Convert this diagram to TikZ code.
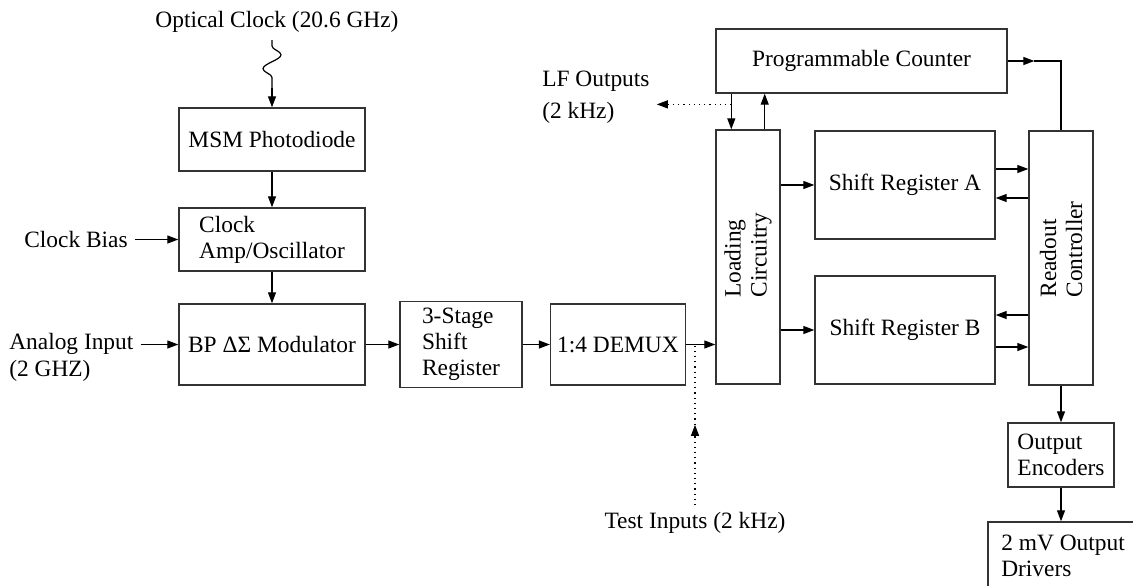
\documentclass[tikz,border=0pt]{standalone}
\usepackage{fontspec}
\setmainfont{Liberation Serif}
\usetikzlibrary{arrows.meta,calc,decorations.pathmorphing}

\tikzset{
	blk/.style={draw=black!80, line width=0.7pt, align=left},
	lbl/.style={align=left},
	vlbl/.style={rotate=90, anchor=west, align=left, inner sep=0pt},
	arr/.style={-{Stealth[length=5.5pt,width=4pt,inset=0pt]}},
}

\begin{document}
\begin{tikzpicture}[x=0.5pt, y=-0.5pt, line width=0.6pt, font=\fontsize{11.7}{13}\selectfont]
	\useasboundingbox (0,0) rectangle (1133,585);
	
	% clock chain and modulator
	\node[lbl] (optclk) at (277,22) {Optical Clock (20.6 GHz)};
	\node[blk, minimum width=93pt, minimum height=31.5pt] (msm) at (272,139.5) {MSM Photodiode};
	\node[blk, minimum width=93pt, minimum height=31.5pt] (amp) at (272,239.5) {Clock\\Amp/Oscillator};
	\node[blk, minimum width=93pt, minimum height=40.5pt] (bp) at (272,344.5) {BP ΔΣ Modulator};
	\node[lbl] (cbias) at (76,239.5) {Clock Bias};
	\node[lbl, anchor=west] (ain) at (2,357) {Analog Input\\[0.5pt](2 GHZ)};
	
	\node[blk, minimum width=61pt, minimum height=40.5pt] (sr3) at (461,344.5) {3-Stage\\Shift\\Register};
	\node[blk, minimum width=64pt, minimum height=40.5pt] (demux) at (618,344.5) {1:4 DEMUX};
	\node[lbl] (tin) at (695,523) {Test Inputs (2 kHz)};
	
	% register bank
	\node[blk, minimum width=145.5pt, minimum height=32pt] (counter) at (861.5,61) {Programmable Counter};
	\node[lbl, anchor=west] (lfo) at (535,97) {LF Outputs\\[3pt](2 kHz)};
	\node[blk, minimum width=32pt, minimum height=127pt] (load) at (748,257) {};
	\node[vlbl] (loadtxt) at ([yshift=-20.5pt]load.center) {Loading\\Circuitry};
	\node[blk, minimum width=90pt, minimum height=54pt] (sra) at (905,185) {Shift Register A};
	\node[blk, minimum width=90pt, minimum height=54pt] (srb) at (905,330) {Shift Register B};
	\node[blk, minimum width=32pt, minimum height=127pt] (rc) at (1061,258) {};
	\node[vlbl] (rctxt) at ([yshift=-20pt]rc.center) {Readout\\Controller};
	\node[blk, minimum width=53pt, minimum height=32pt] (oe) at (1061,455) {Output\\Encoders};
	\node[blk, minimum width=75pt, minimum height=34pt] (drv) at (1063,556) {2 mV Output\\Drivers};
	
	% optical clock input
	\coordinate (wtop) at (272,40);
	\coordinate (wbot) at (272,88);
	\draw[decorate, decoration={snake, amplitude=4.5pt, segment length=14pt, pre length=3pt, post length=1pt}] (wtop) -- (wbot);
	\draw[arr] (wbot) -- (msm.north);
	
	\draw[arr] (msm) -- (amp);
	\draw[arr] (amp) -- (bp);
	\draw[arr] (cbias) -- (amp);
	\draw[arr] (ain.east |- bp.west) -- (bp.west);
	\draw[arr] (bp) -- (sr3);
	\draw[arr] (sr3) -- (demux);
	\draw[arr] (demux.east) -- (demux.east -| load.west);
	
	% test inputs
	\coordinate (tjoin) at (demux.east -| tin.north);
	\coordinate (tmid) at ($(tin.north)!0.5!(tjoin)$);
	\draw[dotted, arr] (tin.north) -- (tmid);
	\draw[dotted] (tmid) -- (tjoin);
	
	% counter and loading
	\draw[arr] ([xshift=8pt]counter.south west) -- ([xshift=8pt]load.north west);
	\draw[arr] ([xshift=-8pt]load.north east) -- ([xshift=-8pt]load.north east |- counter.south);
	\coordinate (lftap) at ($([xshift=8pt]counter.south west)!0.3!([xshift=8pt]load.north west)$);
	\draw[dotted, arr] (lftap) -- (lftap -| lfo.east);
	
	\draw[arr] (load.east |- sra.west) -- (sra.west);
	\draw[arr] (load.east |- srb.west) -- (srb.west);
	
	% registers and readout
	\draw[arr] ([yshift=8pt]sra.east) -- ([yshift=8pt]sra.east -| rc.west);
	\draw[arr] ([yshift=-6.5pt]sra.east -| rc.west) -- ([yshift=-6.5pt]sra.east);
	\draw[arr] ([yshift=7.5pt]srb.east -| rc.west) -- ([yshift=7.5pt]srb.east);
	\draw[arr] ([yshift=-8.5pt]srb.east) -- ([yshift=-8.5pt]srb.east -| rc.west);
	
	\coordinate (ccorner) at (rc.north |- counter.east);
	\coordinate (cmid) at ($(counter.east)!0.5!(ccorner)$);
	\draw[arr] (counter.east) -- (cmid);
	\draw (cmid) -- (ccorner) -- (rc.north);
	
	\draw[arr] (rc) -- (oe);
	\draw[arr] (oe.south) -- (oe.south |- drv.north);
\end{tikzpicture}
\end{document}
